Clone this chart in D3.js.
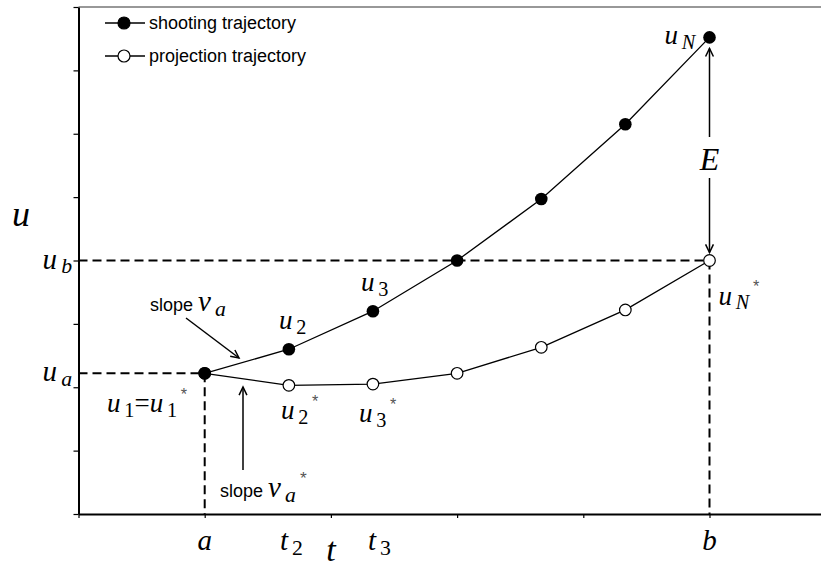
<!DOCTYPE html>
<html lang="en">
<head>
  <meta charset="UTF-8">
  <title>shooting vs projection trajectory</title>
  <script src="https://d3js.org/d3.v7.min.js"></script>
  <style>
    * { margin: 0; padding: 0; }
    body { background: #fff; }
    svg { display: block; }
    .sans { font-family: "Liberation Sans", Arial, sans-serif; font-style: normal; }
    .math { font-family: "Liberation Serif", "Times New Roman", serif; font-style: italic; }
    .math.up { font-style: normal; }
  </style>
</head>
<body>
  <div class="chart"></div>
  <script>
    var width = 821, height = 568;

    // data
    var tPoints = [1, 1.667, 2.333, 3, 3.667, 4.333, 5];
    var shooting = [2.22, 2.6, 3.2, 4.0, 4.97, 6.15, 7.52];
    var projection = [2.22, 2.03, 2.05, 2.22, 2.63, 3.22, 4.0];
    var xTicks = [0, 1, 2, 3, 4, 5, 6];
    var yTicks = [0, 1, 2, 3, 4, 5, 6, 7, 8];
    var ua = 2.22, ub = 4.0, ta = 1, tb = 5;
    var seriesNames = ['shooting trajectory', 'projection trajectory'];

    var svg = d3.select('.chart').append('svg')
      .attr('width', width)
      .attr('height', height);

    var x = d3.scaleLinear().domain([0, 6]).range([78.5, 835.7]);
    var y = d3.scaleLinear().domain([0, 8]).range([514, 7]);

    // top frame line
    svg.append('line')
      .attr('x1', x(0)).attr('x2', width)
      .attr('y1', y(8)).attr('y2', y(8))
      .attr('stroke', '#333').attr('stroke-width', 1.2);

    // axes
    var yAxis = d3.axisLeft(y).tickValues(yTicks).tickSize(5).tickSizeOuter(0).tickFormat('');
    var xAxis = d3.axisBottom(x).tickValues(xTicks).tickSize(4).tickSizeOuter(0).tickFormat('');

    var gy = svg.append('g').attr('transform', 'translate(' + x(0) + ',0)').call(yAxis);
    var gx = svg.append('g').attr('transform', 'translate(0,' + y(0) + ')').call(xAxis);
    gy.select('.domain').attr('stroke-width', 2);
    gx.select('.domain').attr('stroke-width', 2);
    gy.selectAll('.tick line').attr('stroke-width', 1.2);
    gx.selectAll('.tick line').attr('stroke-width', 1.2);

    // dashed guides
    var guides = [
      [x(0), y(ub), x(tb), y(ub)],
      [x(0), y(ua), x(ta), y(ua)],
      [x(ta), y(ua), x(ta), y(0)],
      [x(tb), y(ub), x(tb), y(0)]
    ];
    svg.selectAll('.guide').data(guides).enter().append('line')
      .attr('class', 'guide')
      .attr('x1', function (d) { return d[0]; })
      .attr('y1', function (d) { return d[1]; })
      .attr('x2', function (d) { return d[2]; })
      .attr('y2', function (d) { return d[3]; })
      .attr('stroke', '#000').attr('stroke-width', 2)
      .attr('stroke-dasharray', '9,5');

    // lines
    var line = d3.line()
      .x(function (d) { return x(d[0]); })
      .y(function (d) { return y(d[1]); });

    var shootData = tPoints.map(function (t, i) { return [t, shooting[i]]; });
    var projData = tPoints.map(function (t, i) { return [t, projection[i]]; });

    svg.append('path').attr('d', line(projData))
      .attr('fill', 'none').attr('stroke', '#000').attr('stroke-width', 1.3);
    svg.append('path').attr('d', line(shootData))
      .attr('fill', 'none').attr('stroke', '#000').attr('stroke-width', 1.3);

    svg.selectAll('.proj').data(projData).enter().append('circle')
      .attr('class', 'proj')
      .attr('cx', function (d) { return x(d[0]); })
      .attr('cy', function (d) { return y(d[1]); })
      .attr('r', 5.8)
      .attr('fill', '#fff').attr('stroke', '#000').attr('stroke-width', 1.2);

    svg.selectAll('.shoot').data(shootData).enter().append('circle')
      .attr('class', 'shoot')
      .attr('cx', function (d) { return x(d[0]); })
      .attr('cy', function (d) { return y(d[1]); })
      .attr('r', 6.3)
      .attr('fill', '#000');

    // legend
    var legend = svg.append('g');
    seriesNames.forEach(function (name, i) {
      var ly = 23 + i * 33;
      legend.append('line')
        .attr('x1', 105).attr('x2', 145).attr('y1', ly).attr('y2', ly)
        .attr('stroke', '#000').attr('stroke-width', 1.3);
      legend.append('circle')
        .attr('cx', 124).attr('cy', ly).attr('r', 6)
        .attr('fill', i == 0 ? '#000' : '#fff')
        .attr('stroke', '#000').attr('stroke-width', 1.2);
      legend.append('text').attr('class', 'sans')
        .attr('x', 149).attr('y', ly + 6)
        .attr('font-size', 18)
        .text(name);
    });

    // math label helper: base letter, optional subscript, optional asterisk
    function sym(t, base, sub, star, size) {
      t.append('tspan').attr('class', 'math').attr('font-size', size).text(base);
      if (sub) {
        t.append('tspan').attr('class', /[0-9]/.test(sub) ? 'math up' : 'math')
          .attr('dx', size * 0.14).attr('dy', size * 0.17)
          .attr('font-size', size * 0.75)
          .text(sub);
      }
      if (star) {
        t.append('tspan').attr('dx', size * 0.14).attr('dy', -size * 0.62)
          .attr('font-size', size * 0.6).attr('class', 'sans')
          .attr('fill', '#555').text('*');
      }
      return t;
    }
    function label(px, py, anchor) {
      return svg.append('text').attr('x', px).attr('y', py)
        .attr('text-anchor', anchor || 'start');
    }

    // axis labels
    sym(label(12, 226), 'u', null, false, 36);
    sym(label(x(2.0), 561, 'middle'), 't', null, false, 34);

    // y tick labels
    sym(label(72, y(ub) + 8, 'end'), 'u', 'b', false, 29);
    sym(label(72, y(ua) + 8, 'end'), 'u', 'a', false, 29);

    // x tick labels
    sym(label(x(ta), 550, 'middle'), 'a', null, false, 29);
    sym(label(x(tb), 550, 'middle'), 'b', null, false, 29);
    sym(label(x(tPoints[1]) - 9, 550), 't', '2', false, 29);
    sym(label(x(tPoints[2]) - 5, 550), 't', '3', false, 29);

    // point labels
    var eq = label(107, 412);
    sym(eq, 'u', '1', false, 27);
    eq.append('tspan').attr('class', 'math up')
      .attr('font-size', 27).attr('dy', -27 * 0.17).text('=');
    sym(eq, 'u', '1', true, 27);

    sym(label(x(tPoints[1]) - 10, y(shooting[1]) - 20), 'u', '2', false, 27);
    sym(label(x(tPoints[2]) - 12, y(shooting[2]) - 20), 'u', '3', false, 27);
    sym(label(x(tPoints[1]) - 8, y(projection[1]) + 34), 'u', '2', true, 27);
    sym(label(x(tPoints[2]) - 14, y(projection[2]) + 38), 'u', '3', true, 27);
    sym(label(x(tb) - 45, y(shooting[6]) + 7), 'u', 'N', false, 27);
    sym(label(x(tb) + 9, y(projection[6]) + 44), 'u', 'N', true, 27);

    // slope annotations
    var slope1 = label(150, 311);
    slope1.append('tspan').attr('class', 'sans').attr('font-size', 18).text('slope ');
    sym(slope1, 'v', 'a', false, 29);

    var slope2 = label(220, 497);
    slope2.append('tspan').attr('class', 'sans').attr('font-size', 18).text('slope ');
    sym(slope2, 'v', 'a', true, 29);

    // arrows
    function arrow(x1, y1, x2, y2) {
      var ang = Math.atan2(y2 - y1, x2 - x1), L = 9, w = 0.45;
      svg.append('line').attr('x1', x1).attr('y1', y1).attr('x2', x2).attr('y2', y2)
        .attr('stroke', '#000').attr('stroke-width', 1.5);
      var p = 'M' + (x2 - L * Math.cos(ang - w)) + ',' + (y2 - L * Math.sin(ang - w)) +
        'L' + x2 + ',' + y2 +
        'L' + (x2 - L * Math.cos(ang + w)) + ',' + (y2 - L * Math.sin(ang + w));
      svg.append('path').attr('d', p).attr('fill', 'none')
        .attr('stroke', '#000').attr('stroke-width', 1.5);
    }
    arrow(186, 318, 239, 358);
    arrow(243, 470, 243, 387);
    arrow(x(tb), 137, x(tb), y(shooting[6]) + 11);
    arrow(x(tb), 178, x(tb), y(projection[6]) - 8);

    svg.append('text').attr('class', 'math')
      .attr('x', x(tb)).attr('y', 170)
      .attr('text-anchor', 'middle').attr('font-size', 32).text('E');
  </script>
</body>
</html>
